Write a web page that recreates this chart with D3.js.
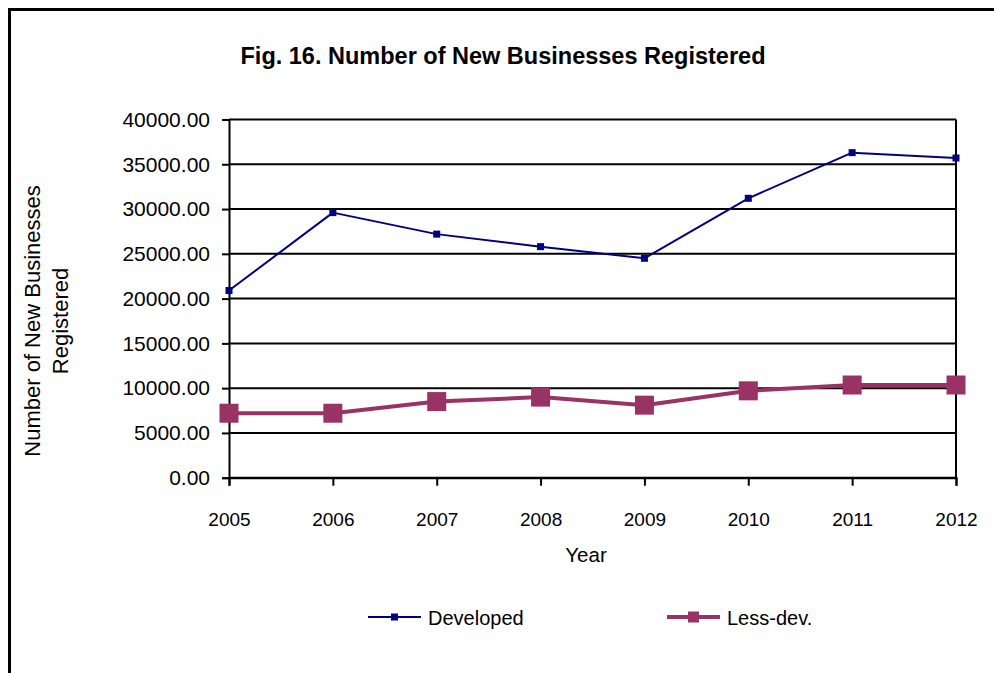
<!DOCTYPE html>
<html>
<head>
<meta charset="utf-8">
<script src="https://cdn.jsdelivr.net/npm/d3@7"></script>
<style>
  html, body { margin: 0; padding: 0; background: #fff; }
  svg { display: block; }
  text { font-family: "Liberation Sans", Arial, sans-serif; fill: #000; }
</style>
</head>
<body>
<svg id="chart" width="994" height="673"></svg>
<script>
// Years on the category axis
const years = ["2005", "2006", "2007", "2008", "2009", "2010", "2011", "2012"];
// New businesses registered per year
const developed = [20900, 29600, 27200, 25800, 24500, 31200, 36300, 35700];
const lessDev   = [7200, 7200, 8500, 9000, 8100, 9700, 10350, 10350];
// Value axis ticks
const yTicks = [0, 5000, 10000, 15000, 20000, 25000, 30000, 35000, 40000];

const seriesNames = ["Developed", "Less-dev."];
const seriesColors = ["#000080", "#993366"];

const svg = d3.select("#chart");

// Outer chart frame
svg.append("rect")
  .attr("x", 9.5).attr("y", 9.5)
  .attr("width", 1000).attr("height", 700)
  .attr("fill", "none").attr("stroke", "#000").attr("stroke-width", 3);

const plot = { left: 229, right: 956, top: 119.5, bottom: 477.7 };

const x = d3.scalePoint().domain(years).range([plot.left, plot.right]);
const y = d3.scaleLinear().domain([0, 40000]).range([plot.bottom, plot.top]);

// Title
svg.append("text")
  .attr("x", 503).attr("y", 64)
  .attr("text-anchor", "middle")
  .attr("font-size", 23.5).attr("font-weight", "bold")
  .text("Fig. 16. Number of New Businesses Registered");

// Horizontal gridlines
svg.append("g")
  .selectAll("line")
  .data(yTicks)
  .join("line")
  .attr("x1", plot.left).attr("x2", plot.right)
  .attr("y1", d => y(d)).attr("y2", d => y(d))
  .attr("stroke", "#000").attr("stroke-width", 2);

// Right edge of the plot area
svg.append("line")
  .attr("x1", plot.right).attr("x2", plot.right)
  .attr("y1", plot.top).attr("y2", plot.bottom)
  .attr("stroke", "#000").attr("stroke-width", 2);

// Value axis
const yAxis = svg.append("g")
  .attr("transform", `translate(${plot.left},0)`)
  .call(d3.axisLeft(y).tickValues(yTicks).tickFormat(d3.format(".2f")).tickSize(7).tickPadding(12));
yAxis.select(".domain").attr("stroke", "#000").attr("stroke-width", 2);
yAxis.selectAll(".tick line").attr("stroke", "#000").attr("stroke-width", 2);
yAxis.selectAll(".tick text")
  .attr("font-family", "Liberation Sans, Arial, sans-serif")
  .attr("font-size", 21).attr("fill", "#000");

// Category axis
const xAxis = svg.append("g")
  .attr("transform", `translate(0,${plot.bottom})`)
  .call(d3.axisBottom(x).tickSize(8).tickPadding(27));
xAxis.select(".domain").attr("stroke", "#000").attr("stroke-width", 2);
xAxis.selectAll(".tick line").attr("stroke", "#000").attr("stroke-width", 2);
xAxis.selectAll(".tick text")
  .attr("font-family", "Liberation Sans, Arial, sans-serif")
  .attr("font-size", 19).attr("fill", "#000");

// Axis titles
svg.append("text")
  .attr("x", 586).attr("y", 562)
  .attr("text-anchor", "middle")
  .attr("font-size", 20.5)
  .text("Year");

const yTitle = svg.append("text")
  .attr("transform", "translate(40,321) rotate(-90)")
  .attr("text-anchor", "middle")
  .attr("font-size", 22);
yTitle.append("tspan").attr("x", 0).attr("dy", 0).text("Number of New Businesses");
yTitle.append("tspan").attr("x", 0).attr("dy", 28).text("Registered");

// Series
const series = [
  { name: seriesNames[0], values: developed, color: seriesColors[0], width: 2, marker: 7, legendMarker: 7 },
  { name: seriesNames[1], values: lessDev, color: seriesColors[1], width: 4, marker: 19, legendMarker: 11 }
];

const line = d3.line()
  .x((d, i) => x(years[i]))
  .y(d => y(d));

series.forEach(s => {
  svg.append("path")
    .datum(s.values)
    .attr("d", line)
    .attr("fill", "none")
    .attr("stroke", s.color)
    .attr("stroke-width", s.width)
    .attr("stroke-linejoin", "round");

  svg.append("g")
    .selectAll("rect")
    .data(s.values)
    .join("rect")
    .attr("x", (d, i) => x(years[i]) - s.marker / 2)
    .attr("y", d => y(d) - s.marker / 2)
    .attr("width", s.marker).attr("height", s.marker)
    .attr("fill", s.color);
});

// Legend
const legendX = [368, 667];
series.forEach((s, i) => {
  const g = svg.append("g").attr("transform", `translate(${legendX[i]},617)`);
  g.append("line")
    .attr("x1", 0).attr("x2", 53).attr("y1", 0).attr("y2", 0)
    .attr("stroke", s.color).attr("stroke-width", s.width);
  g.append("rect")
    .attr("x", 26.5 - s.legendMarker / 2).attr("y", -s.legendMarker / 2)
    .attr("width", s.legendMarker).attr("height", s.legendMarker)
    .attr("fill", s.color);
  g.append("text")
    .attr("x", 60).attr("y", 8)
    .attr("font-size", 20)
    .text(s.name);
});
</script>
</body>
</html>
